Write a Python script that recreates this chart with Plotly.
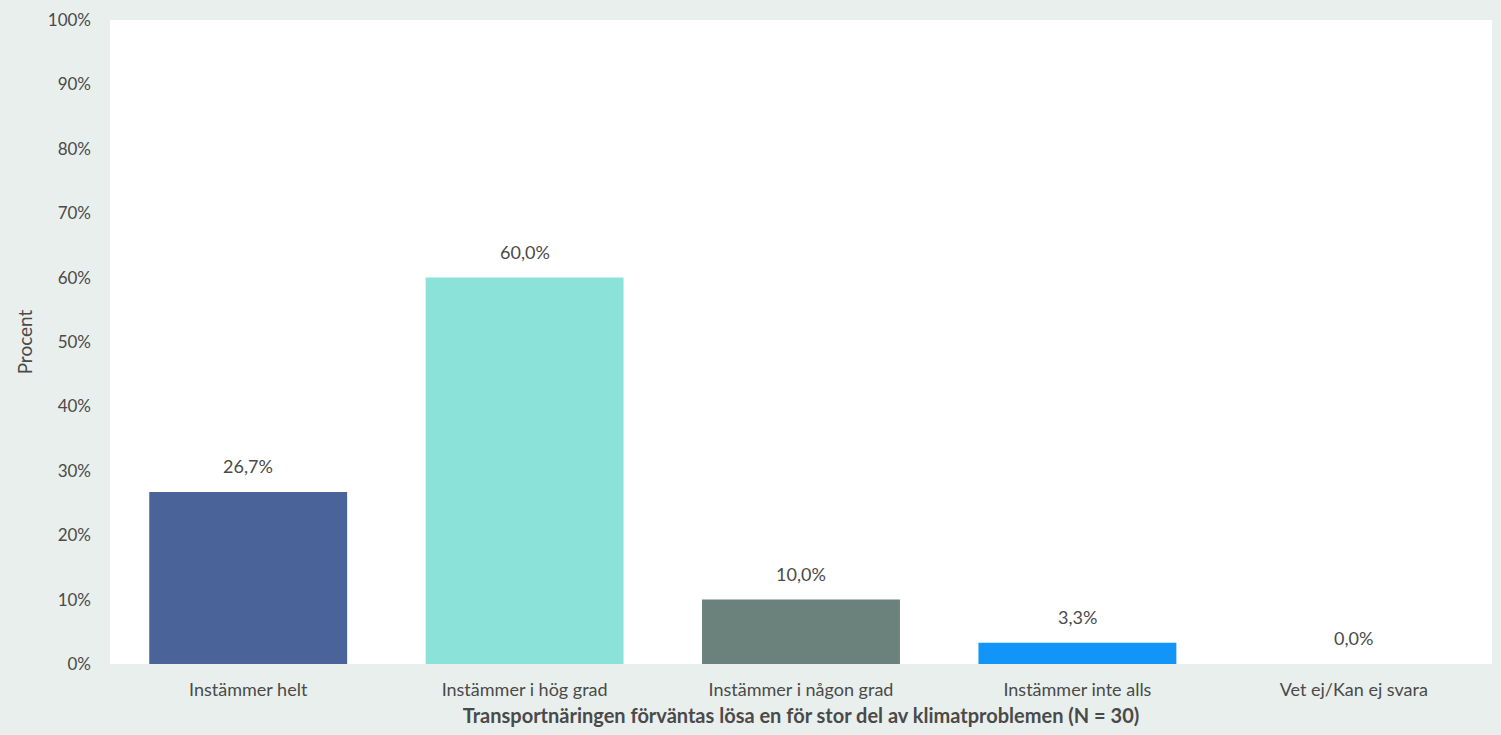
import plotly.graph_objects as go

categories = ["Instämmer helt", "Instämmer i hög grad", "Instämmer i någon grad",
              "Instämmer inte alls", "Vet ej/Kan ej svara"]
values = [26.7, 60.0, 10.0, 3.3, 0.0]
colors = ["#4a6399", "#8ae2d8", "#6a817c", "#1195f9", "#6a817c"]
y_ticks = list(range(0, 101, 10))
y_tick_labels = [f"{t}%" for t in y_ticks]
x_title = "Transportnäringen förväntas lösa en för stor del av klimatproblemen (N = 30)"
y_title = "Procent"

FONT = "Lato, 'Open Sans', sans-serif"
TXT = "#4a4a4a"
BG = "#e9efec"

fig = go.Figure()
fig.add_trace(go.Bar(
    x=categories, y=values,
    marker=dict(color=colors, line=dict(width=0)),
    width=0.716,
    hoverinfo="skip",
))

for c, v in zip(categories, values):
    fig.add_annotation(
        x=c, y=v, text=f"{v:.1f}%".replace(".", ","),
        showarrow=False, yanchor="bottom", yshift=13,
        font=dict(family=FONT, size=18, color=TXT),
    )

fig.update_layout(
    width=1501, height=735,
    margin=dict(l=110, r=9, t=17, b=71),
    paper_bgcolor=BG, plot_bgcolor="white",
    showlegend=False,
    font=dict(family=FONT, size=18, color=TXT),
    bargap=0.284,
)
fig.update_xaxes(
    showgrid=False, zeroline=False, showline=False, ticks="",
    ticklabelstandoff=13,
    tickfont=dict(family=FONT, size=18, color=TXT),
    title=dict(text=f"<b>{x_title}</b>", font=dict(family=FONT, size=20, color=TXT), standoff=9),
)
fig.update_yaxes(
    range=[0, 100], tickvals=y_ticks, ticktext=y_tick_labels,
    showgrid=False, zeroline=False, showline=False, ticks="",
    ticklabelstandoff=18,
    tickfont=dict(family=FONT, size=17, color=TXT),
    title=dict(text=y_title, font=dict(family=FONT, size=19, color=TXT), standoff=10),
)

fig.write_html("out.html", config={"displayModeBar": False})
with open("out.html", "r", encoding="utf-8") as f:
    html = f.read()
html = html.replace("<head>", "<head><style>html,body{margin:0;padding:0;}</style>", 1)
with open("out.html", "w", encoding="utf-8") as f:
    f.write(html)
